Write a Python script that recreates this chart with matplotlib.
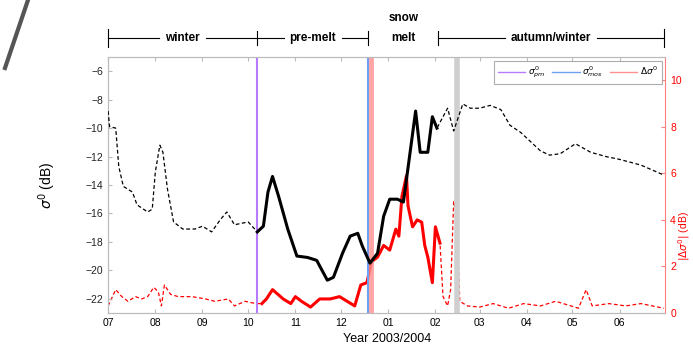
import matplotlib
matplotlib.use("Agg")
import matplotlib.pyplot as plt
import matplotlib.dates as mdates
from matplotlib.lines import Line2D
from matplotlib.transforms import blended_transform_factory
import pandas as pd

plt.rcParams['font.family'] = ['Liberation Sans', 'DejaVu Sans']

# ---- data ----
sig_dates = ['2003-07-01','2003-07-02','2003-07-06','2003-07-08','2003-07-11','2003-07-17','2003-07-20',
             '2003-07-27','2003-07-30','2003-08-01','2003-08-04','2003-08-06','2003-08-09','2003-08-13',
             '2003-08-19','2003-08-27','2003-09-01','2003-09-07','2003-09-13','2003-09-17','2003-09-22',
             '2003-10-01','2003-10-07','2003-10-11','2003-10-14','2003-10-17','2003-10-21','2003-10-27',
             '2003-11-02','2003-11-09','2003-11-15','2003-11-22','2003-11-26','2003-12-02','2003-12-07',
             '2003-12-12','2003-12-15','2003-12-20','2003-12-25','2003-12-29','2004-01-02','2004-01-07',
             '2004-01-11','2004-01-15','2004-01-19','2004-01-22','2004-01-27','2004-01-30','2004-02-02',
             '2004-02-09','2004-02-13','2004-02-19','2004-02-24','2004-03-01','2004-03-08','2004-03-15',
             '2004-03-21','2004-03-28','2004-04-10','2004-04-16','2004-04-23','2004-05-03','2004-05-13',
             '2004-05-23','2004-06-01','2004-06-15','2004-06-30']
sig_vals = [-8.8,-9.9,-10.0,-12.7,-14.1,-14.5,-15.4,
            -15.9,-15.7,-13.1,-11.2,-11.7,-14.3,-16.6,
            -17.1,-17.1,-16.9,-17.3,-16.4,-15.9,-16.8,
            -16.6,-17.3,-16.9,-14.5,-13.4,-14.8,-17.1,
            -19.0,-19.1,-19.3,-20.7,-20.5,-18.8,-17.6,
            -17.4,-18.3,-19.5,-18.8,-16.2,-15.0,-15.0,
            -15.2,-12.0,-8.8,-11.7,-11.7,-9.2,-10.0,
            -8.6,-10.2,-8.3,-8.6,-8.6,-8.4,-8.7,
            -9.8,-10.3,-11.6,-11.9,-11.8,-11.1,-11.7,
            -12.0,-12.2,-12.6,-13.3]

dsig_dates = ['2003-07-01','2003-07-06','2003-07-10','2003-07-14','2003-07-19','2003-07-23','2003-07-27',
              '2003-07-31','2003-08-03','2003-08-05','2003-08-07','2003-08-11','2003-08-16','2003-08-25',
              '2003-09-03','2003-09-09','2003-09-18','2003-09-22','2003-09-29','2003-10-06','2003-10-10',
              '2003-10-13','2003-10-17','2003-10-24','2003-10-29','2003-11-01','2003-11-05','2003-11-11',
              '2003-11-17','2003-11-24','2003-11-30','2003-12-05','2003-12-10','2003-12-14','2003-12-18',
              '2003-12-21','2003-12-25','2003-12-29','2004-01-02','2004-01-06','2004-01-08','2004-01-10',
              '2004-01-13','2004-01-14','2004-01-17','2004-01-20','2004-01-23','2004-01-25','2004-01-27',
              '2004-01-30','2004-02-01','2004-02-04','2004-02-06','2004-02-09','2004-02-11','2004-02-13',
              '2004-02-15','2004-02-17','2004-02-22','2004-03-01','2004-03-10','2004-03-20','2004-03-30',
              '2004-04-10','2004-04-20','2004-04-30','2004-05-05','2004-05-10','2004-05-14','2004-05-25',
              '2004-06-05','2004-06-15','2004-06-30']
dsig_vals = [0.3,1.0,0.7,0.5,0.7,0.6,0.7,
             1.1,0.9,0.3,1.2,0.8,0.7,0.7,
             0.6,0.5,0.6,0.3,0.5,0.4,0.4,
             0.6,1.0,0.6,0.4,0.7,0.5,0.25,
             0.6,0.6,0.7,0.5,0.3,1.2,1.3,
             2.2,2.4,2.9,2.7,3.6,3.3,5.0,
             5.9,4.6,3.7,4.0,3.9,2.9,2.4,
             1.3,3.7,3.0,0.7,0.3,1.0,4.8,
             4.2,0.5,0.3,0.25,0.4,0.2,0.4,
             0.3,0.5,0.3,0.2,1.0,0.3,0.4,
             0.3,0.4,0.2]

premelt_date = '2003-10-07'
melt_onset_date = '2003-12-19'
melt_red_date = '2003-12-21'
melt_end_date = '2004-02-15'
period_bounds = ['2003-07-01', '2003-10-07', '2003-12-19', '2004-02-03', '2004-06-30']
period_names = ['winter', 'pre-melt', 'melt', 'autumn/winter']
period_extra = 'snow'
thick_start, thick_end = '2003-10-07', '2004-02-04'
month_ticks = pd.date_range('2003-07-01', '2004-06-01', freq='MS')
month_labels = ['07','08','09','10','11','12','01','02','03','04','05','06']

# ---- figure ----
fig = plt.figure(figsize=(6.93, 3.5), dpi=100)
ax = fig.add_axes([0.156, 0.106, 0.804, 0.731])
ax2 = ax.twinx()
ax.set_zorder(ax2.get_zorder() + 1)
ax.patch.set_visible(False)

sd = pd.to_datetime(sig_dates)
sv = pd.Series(sig_vals, index=sd)
dd = pd.to_datetime(dsig_dates)
dv = pd.Series(dsig_vals, index=dd)

# vertical markers
ax.axvline(pd.Timestamp(premelt_date), color='#b77bff', lw=1.5, zorder=1)
ax.axvline(pd.Timestamp(melt_onset_date), color='#6e9ff0', lw=1.5, zorder=1)
ax.axvline(pd.Timestamp(melt_red_date), color='#ff8f8f', lw=3.5, alpha=0.8, zorder=1)
ax.axvline(pd.Timestamp(melt_end_date), color='#cfcfcf', lw=4, zorder=1)

# red series on right axis
ax2.plot(dv.index, dv.values, color='red', lw=0.9, ls=(0, (3, 2)))
thick_r = dv[thick_start:thick_end]
ax2.plot(thick_r.index, thick_r.values, color='red', lw=2.2, ls='-')

# black series on left axis
ax.plot(sv.index, sv.values, color='black', lw=0.9, ls=(0, (3, 2)), zorder=3)
thick_b = sv[thick_start:thick_end]
ax.plot(thick_b.index, thick_b.values, color='black', lw=2.2, ls='-', zorder=3)

ax.set_xlim(pd.Timestamp('2003-07-01'), pd.Timestamp('2004-07-01'))
ax.set_ylim(-23, -5)
ax2.set_ylim(0, 11)
ax.set_yticks(range(-22, -5, 2))
ax2.set_yticks(range(0, 11, 2))
ax.set_xticks(month_ticks)
ax.set_xticklabels(month_labels)

gray = '#bbbbbb'
for s in ['left', 'top', 'bottom']:
    ax.spines[s].set_color(gray)
    ax2.spines[s].set_color(gray)
ax.spines['right'].set_visible(False)
ax2.spines['right'].set_color('#ff7f7f')
ax.tick_params(axis='both', direction='in', length=3, color=gray, labelsize=7.5, top=True)
ax.tick_params(axis='y', labelcolor='#222222')
ax2.tick_params(axis='y', direction='in', length=3, color='#ff7f7f', labelcolor='red', labelsize=7.5)

ax.set_xlabel('Year 2003/2004', fontsize=9, labelpad=4)
ax.set_ylabel(r'$\sigma^0$ (dB)', fontsize=10, labelpad=20)
ax2.set_ylabel(r'$|\Delta\sigma^0|$ (dB)', fontsize=7.5, color='red')
ax2.yaxis.label.set_verticalalignment('center')
ax2.yaxis.set_label_coords((684 - 108) / 557, 0.3)

# legend
handles = [Line2D([], [], color='#b77bff', lw=1),
           Line2D([], [], color='#6e9ff0', lw=1),
           Line2D([], [], color='#ff8f8f', lw=1)]
labels = [r'$\sigma^0_{pm}$', r'$\sigma^0_{mos}$', r'$\Delta\sigma^0$']
leg = ax.legend(handles, labels, ncol=3, loc='upper right', fontsize=6.5, frameon=True,
                fancybox=False, edgecolor='#999999', handlelength=3.0, columnspacing=0.8,
                borderaxespad=0.4, handletextpad=0.3)
leg.get_frame().set_linewidth(0.8)

# period brackets above the axes
tr = blended_transform_factory(ax.transData, fig.transFigure)
yb = 1 - 38 / 350
bounds = pd.to_datetime(period_bounds)
fig.canvas.draw()
pad = 6 / (ax.get_window_extent().width / 366)
for i, name in enumerate(period_names):
    a, b = bounds[i], bounds[i + 1]
    mid = mdates.date2num(a + (b - a) / 2)
    t = fig.text(mid, yb, name, transform=tr, ha='center', va='center', fontsize=8.5,
                 fontweight='bold')
    if name == 'melt':
        fig.text(mid, yb + 20 / 350, period_extra, transform=tr, ha='center', va='center',
                 fontsize=8.5, fontweight='bold')
        continue
    fig.canvas.draw()
    bb = t.get_window_extent().transformed(ax.transData.inverted())
    left_end = mdates.date2num(a)
    right_end = mdates.date2num(b)
    fig.add_artist(Line2D([left_end, bb.x0 - pad], [yb, yb], transform=tr, color='black', lw=0.8))
    fig.add_artist(Line2D([bb.x1 + pad, right_end], [yb, yb], transform=tr, color='black', lw=0.8))
for j, b in enumerate(bounds):
    x = mdates.date2num(b)
    h = 0.025 if j in (0, len(bounds) - 1) else 0.02
    fig.add_artist(Line2D([x, x], [yb - h, yb + h], transform=tr, color='black', lw=0.8))

# piece of neighbouring panel border at top-left
fig.add_artist(Line2D([28 / 693, 5 / 693], [1.0, 1 - 68 / 350], transform=fig.transFigure,
                      color='#555555', lw=3))

fig.savefig('out.png', dpi=100)
